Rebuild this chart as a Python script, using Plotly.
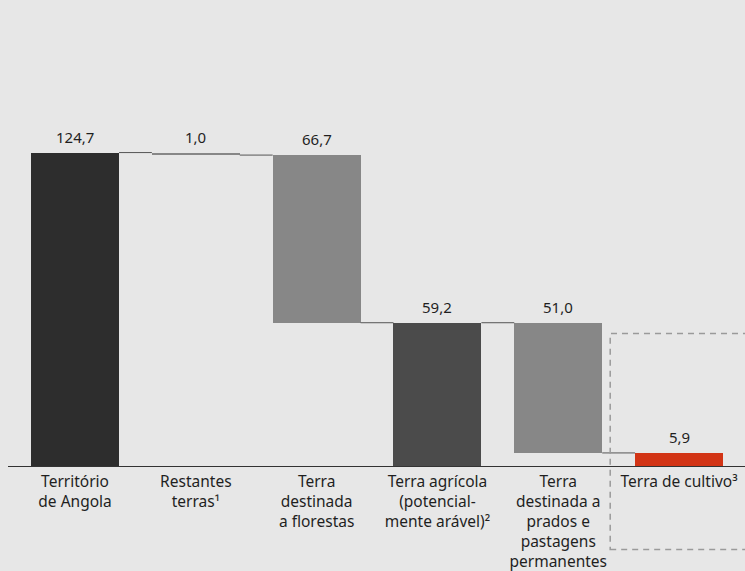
import plotly.graph_objects as go

# ---- data ----
categories = [
    "Território<br>de Angola",
    "Restantes<br>terras¹",
    "Terra<br>destinada<br>a florestas",
    "Terra agrícola<br>(potencial-<br>mente arável)²",
    "Terra<br>destinada a<br>prados e<br>pastagens<br>permanentes",
    "Terra de cultivo³",
]
label_values = [124.7, 1.0, 66.7, 59.2, 51.0, 5.9]
bar_bottoms = [0.0, 123.7, 57.0, 0.0, 5.2, 0.0]
bar_tops = [124.7, 124.7, 123.7, 57.0, 57.0, 5.2]
bar_colors = ["#2d2d2d", "#878787", "#878787", "#4b4b4b", "#878787", "#d23415"]
# connector level after each bar (end of the flow of that bar)
connector_levels = [124.7, 123.7, 57.0, 57.0, 5.2]

BAR_W = 0.728
FONT = "Noto Sans"
TXT = "#1f1f1f"
BG = "#e7e7e7"
YMAX = 167.5

n = len(categories)
xs = list(range(n))

fig = go.Figure()
fig.add_trace(go.Bar(
    x=xs,
    y=[t - b for t, b in zip(bar_tops, bar_bottoms)],
    base=bar_bottoms,
    width=BAR_W,
    marker=dict(color=bar_colors, line=dict(width=0)),
    hoverinfo="skip",
    showlegend=False,
))

# connectors
for i, lvl in enumerate(connector_levels):
    fig.add_trace(go.Scatter(
        x=[i + BAR_W / 2, i + 1 - BAR_W / 2],
        y=[lvl, lvl],
        mode="lines",
        line=dict(color="#555555", width=1),
        hoverinfo="skip",
        showlegend=False,
    ))

# value labels
for i, v in enumerate(label_values):
    fig.add_annotation(
        x=i, y=bar_tops[i], xref="x", yref="y",
        text=f"{v:.1f}".replace(".", ","),
        showarrow=False, yanchor="bottom", yshift=4,
        font=dict(family=FONT, size=15, color=TXT),
    )

# dashed highlight box around the last category
fig.add_shape(
    type="rect", xref="x", yref="paper",
    x0=n - 1 - 0.57, x1=n - 1 + 0.75,
    y0=-33.2 / YMAX, y1=52.7 / YMAX,
    line=dict(color="#9a9a9a", width=1.5, dash="6px,5px"),
    fillcolor="rgba(0,0,0,0)", layer="above",
)

fig.update_layout(
    width=745, height=571,
    margin=dict(l=8, r=0, t=45, b=105, autoexpand=False),
    paper_bgcolor=BG, plot_bgcolor=BG,
    font=dict(family=FONT, size=15.5, color=TXT),
    bargap=0,
    xaxis=dict(
        range=[-0.555, n - 1 + 0.546],
        tickmode="array", tickvals=xs, ticktext=categories,
        showgrid=False, zeroline=False,
        showline=True, linecolor="#333333", linewidth=1,
        ticks="", ticklabelstandoff=1, automargin=False,
        tickfont=dict(family=FONT, size=15.5, color=TXT),
        fixedrange=True,
    ),
    yaxis=dict(
        range=[0, YMAX], visible=False, showgrid=False, zeroline=False,
        fixedrange=True, automargin=False,
    ),
)

fig.write_html(
    "out.html",
    config={"displayModeBar": False},
    post_script="document.body.style.margin='0';document.body.style.overflow='hidden';",
)
